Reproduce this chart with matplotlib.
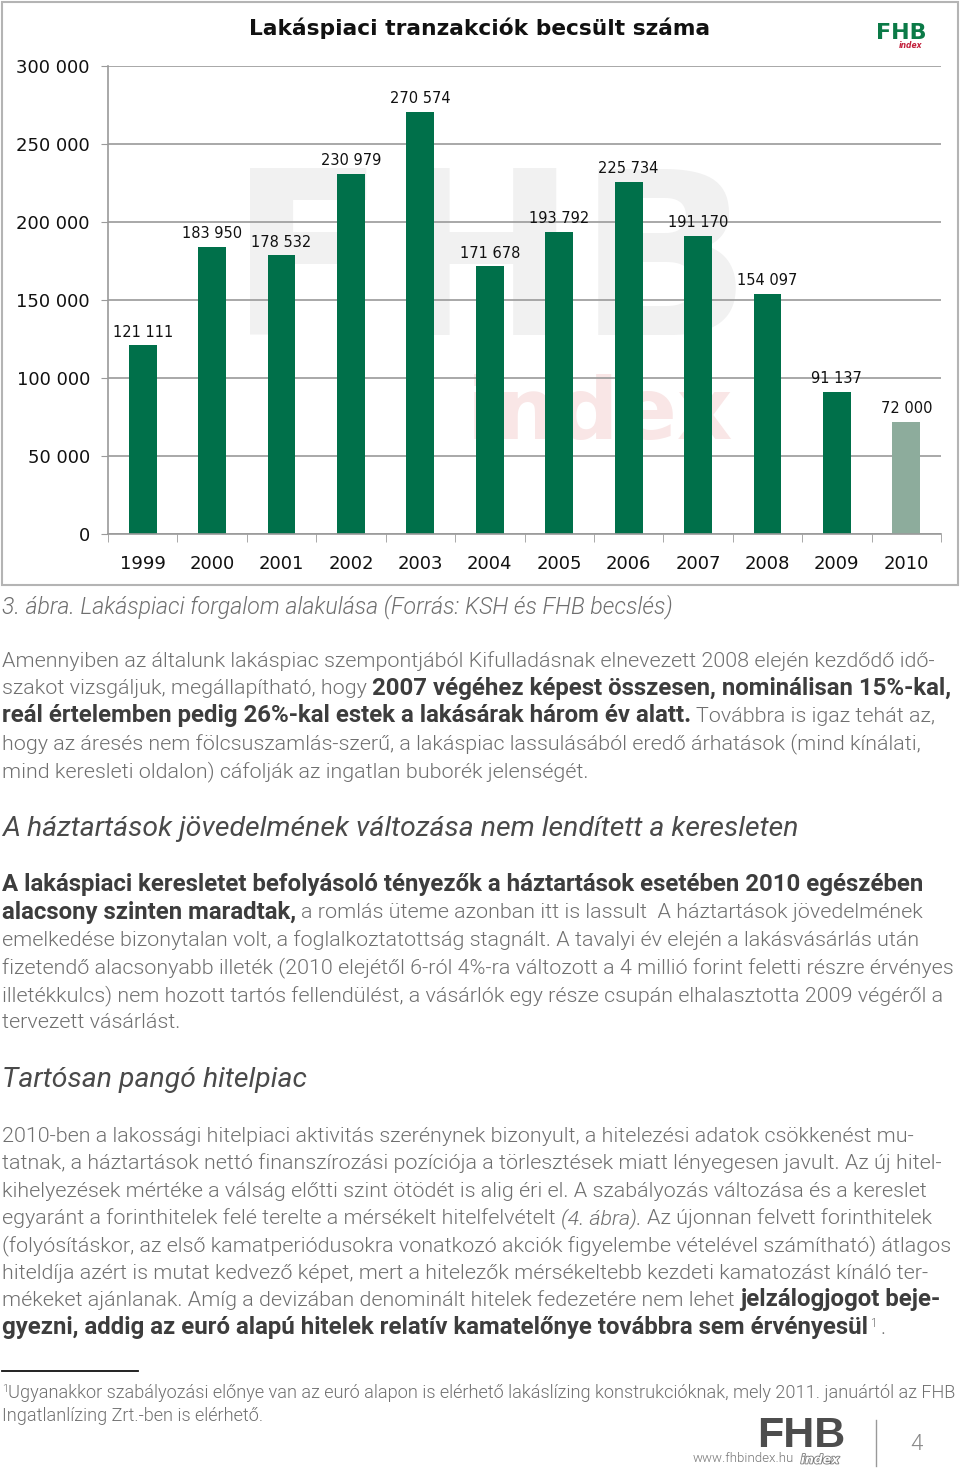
import numpy as np
import matplotlib
matplotlib.use('Agg')
import matplotlib.pyplot as plt
import matplotlib.patheffects as pe
from matplotlib.patches import Rectangle
from matplotlib.lines import Line2D
from matplotlib import font_manager

# chart data
years = ['1999', '2000', '2001', '2002', '2003', '2004',
         '2005', '2006', '2007', '2008', '2009', '2010']
deals = [121111, 183950, 178532, 230979, 270574, 171678,
         193792, 225734, 191170, 154097, 91137, 72000]
estimate = [False] * 11 + [True]
yticks = [0, 50000, 100000, 150000, 200000, 250000, 300000]

W, H = 960, 1471
fig = plt.figure(figsize=(9.6, 14.71), dpi=100)
fig.patch.set_facecolor('white')
renderer = fig.canvas.get_renderer()


def fx(x):
    return x / W


def fy(y):
    return 1 - y / H


def fmt(v):
    return f'{v:,}'.replace(',', ' ')


# body font: a light sans if there is one
have = {(f.name, f.weight) for f in font_manager.fontManager.ttflist}
if ('Roboto', 300) in have:
    BODY, LIGHT = 'Roboto', 300
elif ('Lato', 300) in have:
    BODY, LIGHT = 'Lato', 300
else:
    BODY, LIGHT = 'Liberation Sans', 'normal'

GREY = '#6f6f6f'
DARK = '#3d3d3d'
HEAD = '#4a4a4a'

# ---------------- chart ----------------
green = '#00704a'
pale = '#8dac9c'
cols = [pale if e else green for e in estimate]

fig.add_artist(Rectangle((fx(2), fy(585)), fx(956), 583 / H, transform=fig.transFigure,
                         fill=False, edgecolor='#b4b4b4', lw=1.5))

ax = fig.add_axes([fx(108), fy(534), (941 - 108) / W, (534 - 66) / H])
ax.set_facecolor('none')
x = np.arange(len(years))

# faint watermark behind the bars
ax.text(fx(490), fy(272), 'FHB', transform=fig.transFigure, fontsize=165,
        weight='bold', color='#f1f1f1', ha='center', va='center', zorder=0.1,
        family='DejaVu Sans')
ax.text(fx(600), fy(415), 'index', transform=fig.transFigure, fontsize=62,
        weight='bold', color='#f9e6e6', ha='center', va='center', zorder=0.1,
        family='DejaVu Sans')

ax.bar(x, deals, width=0.4, color=cols, zorder=2)
for xi, v in zip(x, deals):
    ax.annotate(fmt(v), (xi, v), xytext=(0, 4), textcoords='offset points',
                ha='center', va='bottom', fontsize=10.5, color='#111')

ax.set_xlim(-0.5, len(years) - 0.5)
ax.set_ylim(0, 300000)
ax.set_yticks(yticks)
ax.set_yticklabels([fmt(v) for v in yticks])
ax.set_xticks(x)
ax.set_xticklabels(years)
ax.set_xticks(np.arange(-0.5, len(years)), minor=True)
ax.set_axisbelow(True)
ax.grid(axis='y', color='#9a9a9a', lw=1.2)
for s in ['top', 'right']:
    ax.spines[s].set_visible(False)
for s in ['left', 'bottom']:
    ax.spines[s].set_color('#9a9a9a')
    ax.spines[s].set_linewidth(1.2)
ax.tick_params(axis='y', length=5, color='#9a9a9a', labelsize=13, pad=8, labelcolor='#111')
ax.tick_params(axis='x', which='major', length=0, labelsize=13, pad=15, labelcolor='#111')
ax.tick_params(axis='x', which='minor', length=6, color='#9a9a9a')

fig.text(fx(480), fy(28), 'Lakáspiaci tranzakciók becsült száma', ha='center', va='center',
         fontsize=15.7, weight='bold', color='#111', family='DejaVu Sans')
fig.text(fx(901), fy(33), 'FHB', ha='center', va='center', fontsize=16,
         weight='heavy', color='#0b7a47', family='DejaVu Sans')
fig.text(fx(911), fy(45), 'index', ha='center', va='center', fontsize=5.5,
         weight='bold', style='italic', color='#c3203c', family='DejaVu Sans')

# ---------------- text ----------------


def ink_width(s, kw):
    t = fig.text(0, 0, s, **kw)
    w = t.get_window_extent(renderer).width
    t.remove()
    return w


def space_width(kw):
    return ink_width('n n', kw) - ink_width('nn', kw)


def fit(s, kw, target):
    return 10 * target / ink_width(s, dict(kw, fontsize=10))


def put(x, y, runs):
    for s, kw in runs:
        lead = len(s) - len(s.lstrip(' '))
        trail = len(s) - len(s.rstrip(' '))
        core = s.strip(' ')
        x += lead * space_width(kw)
        if core:
            t = fig.text(fx(x), fy(y), core, va='baseline', **kw)
            x += t.get_window_extent(renderer).width
        x += trail * space_width(kw)
    return x


N0 = dict(family=BODY, weight=LIGHT, color=GREY)
B0 = dict(family=BODY, weight='bold', color=DARK)
I0 = dict(family=BODY, weight=LIGHT, style='italic', color=GREY)
HI0 = dict(family=BODY, weight='normal', style='italic', color=HEAD)

body = fit('fizetendő alacsonyabb illeték (2010 elejétől 6-ról 4%-ra változott '
           'a 4 millió forint feletti részre érvényes', N0, 950)
bold = fit('A lakáspiaci keresletet befolyásoló tényezők a háztartások esetében 2010 egészében', B0, 925)
N = dict(N0, fontsize=body)
I = dict(I0, fontsize=body)
B = dict(B0, fontsize=bold)

cap_txt = '3. ábra. Lakáspiaci forgalom alakulása (Forrás: KSH és FHB becslés)'
put(2, 613, [(cap_txt, dict(I0, fontsize=fit(cap_txt, I0, 671)))])

para1 = [
    [('Amennyiben az általunk lakáspiac szempontjából Kifulladásnak elnevezett 2008 elején kezdődő idő-', N)],
    [('szakot vizsgáljuk, megállapítható, hogy ', N),
     ('2007 végéhez képest összesen, nominálisan 15%-kal,', B)],
    [('reál értelemben pedig 26%-kal estek a lakásárak három év alatt.', B),
     (' Továbbra is igaz tehát az,', N)],
    [('hogy az áresés nem fölcsuszamlás-szerű, a lakáspiac lassulásából eredő árhatások (mind kínálati,', N)],
    [('mind keresleti oldalon) cáfolják az ingatlan buborék jelenségét.', N)],
]
for i, runs in enumerate(para1):
    put(2, 667 + i * 27.5, runs)

h1 = 'A háztartások jövedelmének változása nem lendített a keresleten'
HI = dict(HI0, fontsize=fit(h1, HI0, 793))
put(2, 836, [(h1, HI)])

para2 = [
    [('A lakáspiaci keresletet befolyásoló tényezők a háztartások esetében 2010 egészében', B)],
    [('alacsony szinten maradtak,', B),
     (' a romlás üteme azonban itt is lassult  A háztartások jövedelmének', N)],
    [('emelkedése bizonytalan volt, a foglalkoztatottság stagnált. A tavalyi év elején a lakásvásárlás után', N)],
    [('fizetendő alacsonyabb illeték (2010 elejétől 6-ról 4%-ra változott a 4 millió forint feletti részre érvényes', N)],
    [('illetékkulcs) nem hozott tartós fellendülést, a vásárlók egy része csupán elhalasztotta 2009 végéről a', N)],
    [('tervezett vásárlást.', N)],
]
for i, runs in enumerate(para2):
    put(2, 891 + i * 27.5, runs)

put(2, 1087, [('Tartósan pangó hitelpiac', HI)])

para3 = [
    [('2010-ben a lakossági hitelpiaci aktivitás szerénynek bizonyult, a hitelezési adatok csökkenést mu-', N)],
    [('tatnak, a háztartások nettó finanszírozási pozíciója a törlesztések miatt lényegesen javult. Az új hitel-', N)],
    [('kihelyezések mértéke a válság előtti szint ötödét is alig éri el. A szabályozás változása és a kereslet', N)],
    [('egyaránt a forinthitelek felé terelte a mérsékelt hitelfelvételt ', N), ('(4. ábra).', I),
     (' Az újonnan felvett forinthitelek', N)],
    [('(folyósításkor, az első kamatperiódusokra vonatkozó akciók figyelembe vételével számítható) átlagos', N)],
    [('hiteldíja azért is mutat kedvező képet, mert a hitelezők mérsékeltebb kezdeti kamatozást kínáló ter-', N)],
    [('mékeket ajánlanak. Amíg a devizában denominált hitelek fedezetére nem lehet ', N),
     ('jelzálogjogot beje-', B)],
    [('gyezni, addig az euró alapú hitelek relatív kamatelőnye továbbra sem érvényesül', B)],
]
for i, runs in enumerate(para3):
    xe = put(2, 1142 + i * 27.4, runs)
# footnote mark and closing full stop of the last line
fig.text(fx(xe + 2), fy(1327), '1', va='baseline', **dict(N, fontsize=body * 0.55))
fig.text(fx(xe + 12), fy(1334), '.', va='baseline', **N)

fig.add_artist(Line2D([fx(2), fx(138)], [fy(1371), fy(1371)], transform=fig.transFigure,
                      color='#111', lw=1.3))

fn1 = 'Ugyanakkor szabályozási előnye van az euró alapon is elérhető lakáslízing konstrukcióknak, mely 2011. januártól az FHB'
F = dict(N0, fontsize=fit(fn1, N0, 945))
fig.text(fx(2), fy(1392), '1', va='baseline', **dict(F, fontsize=F['fontsize'] * 0.6))
put(8, 1398, [(fn1, F)])
put(2, 1421, [('Ingatlanlízing Zrt.-ben is elérhető.', F)])

# page footer
fig.text(fx(801), fy(1436), 'FHB', ha='center', va='center', fontsize=31, weight='bold',
         color='#4d4d4d', family='Liberation Sans')
fig.text(fx(743), fy(1459), 'www.fhbindex.hu', ha='center', va='center', fontsize=9.5,
         color='#777', family=BODY, weight=LIGHT)
fig.text(fx(820), fy(1460), 'index', ha='center', va='center', fontsize=9, weight='bold',
         style='italic', color='white', family='DejaVu Sans',
         path_effects=[pe.withStroke(linewidth=1.2, foreground='#777')])
fig.add_artist(Line2D([fx(876), fx(876)], [fy(1420), fy(1466)], transform=fig.transFigure,
                      color='#999', lw=1))
fig.text(fx(916), fy(1444), '4', ha='center', va='center', fontsize=16, color='#888',
         family=BODY, weight=LIGHT)

fig.savefig('out.png', dpi=100, facecolor='white')
